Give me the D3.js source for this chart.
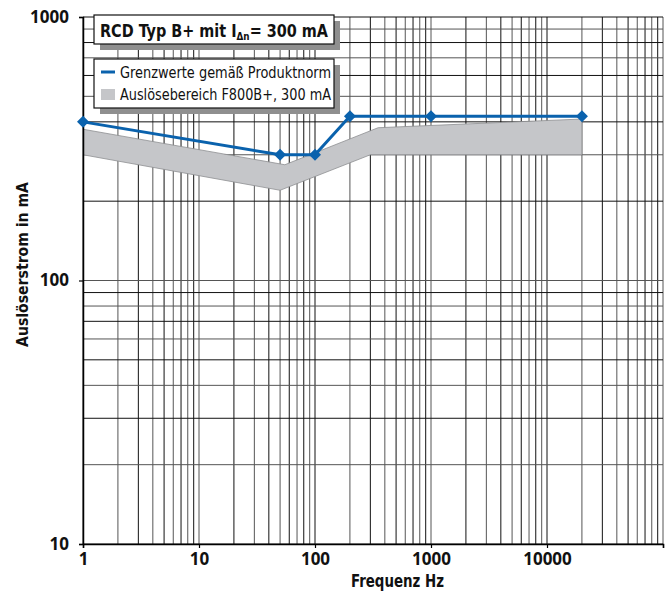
<!DOCTYPE html>
<html><head><meta charset="utf-8">
<script src="https://cdn.jsdelivr.net/npm/d3@7"></script>
<style>
body{margin:0;background:#fff;}
svg{display:block;}
.cond{font-family:"Liberation Sans Narrow","DejaVu Sans Condensed","Open Sans",sans-serif;}
.tick text{font-family:"Open Sans",sans-serif;font-weight:bold;font-size:17px;fill:#111;}
</style></head>
<body>
<svg id="chart" width="671" height="594"></svg>
<script>
// ---- data ----
const limitFreq = [1, 50, 100, 200, 1000, 20000];
const limitCurrent = [400, 300, 300, 420, 420, 420];
const bandUpperFreq = [1, 55, 350, 20000];
const bandUpperCurrent = [375, 275, 380, 410];
const bandLowerFreq = [1, 50, 300, 20000];
const bandLowerCurrent = [300, 220, 300, 300];
const xTickValues = [1, 10, 100, 1000, 10000];
const xTickLabels = ["1", "10", "100", "1000", "10000"];
const yTickValues = [10, 100, 1000];
const yTickLabels = ["10", "100", "1000"];
const titleText = ["RCD Typ B+ mit I", "Δn", "= 300 mA"];
const legendLabels = ["Grenzwerte gemäß Produktnorm", "Auslösebereich F800B+, 300 mA"];
const xTitle = "Frequenz Hz";
const yTitle = "Auslöserstrom in mA";

const svg = d3.select("#chart");
const x = d3.scaleLog().domain([1, 100000]).range([83, 663]);
const y = d3.scaleLog().domain([10, 1000]).range([544, 17]);

// grid
const xGrid = [];
for (let k = 0; k < 5; k++) for (let m = 1; m <= 9; m++) xGrid.push(m * Math.pow(10, k));
xGrid.push(100000);
const yGrid = [];
for (let k = 1; k < 3; k++) for (let m = 1; m <= 9; m++) yGrid.push(m * Math.pow(10, k));
yGrid.push(1000);

const g = svg.append("g");
g.selectAll("line.vg").data(xGrid).enter().append("line")
  .attr("x1", d => x(d)).attr("x2", d => x(d)).attr("y1", y(1000)).attr("y2", y(10))
  .attr("stroke", (d, i) => i % 2 ? "#555" : "#111").attr("stroke-width", 1);
g.selectAll("line.hg").data(yGrid).enter().append("line")
  .attr("y1", d => y(d)).attr("y2", d => y(d)).attr("x1", x(1)).attr("x2", x(100000))
  .attr("stroke", (d, i) => i % 2 ? "#555" : "#111").attr("stroke-width", 1);

// band
const bandPts = bandUpperFreq.map((f, i) => [x(f), y(bandUpperCurrent[i])])
  .concat(bandLowerFreq.map((f, i) => [x(f), y(bandLowerCurrent[i])]).reverse());
svg.append("path").attr("d", d3.line()(bandPts) + "Z")
  .attr("fill", "#c5c6c9").attr("stroke", "#8e8f92").attr("stroke-width", 0.8);

// axes
const xAxis = d3.axisBottom(x).tickValues(xTickValues.concat([100000]))
  .tickFormat(d => { const i = xTickValues.indexOf(d); return i >= 0 ? xTickLabels[i] : ""; })
  .tickSize(4).tickPadding(7);
const gx = svg.append("g").attr("transform", "translate(0,544)").call(xAxis);
const yAxis = d3.axisLeft(y).tickValues(yTickValues)
  .tickFormat(d => yTickLabels[yTickValues.indexOf(d)])
  .tickSize(4).tickPadding(10);
const gy = svg.append("g").attr("transform", "translate(83,0)").call(yAxis);
[gx, gy].forEach(a => {
  a.select(".domain").attr("stroke", "#000").attr("stroke-width", 1.5);
  a.selectAll(".tick line").attr("stroke", "#000").attr("stroke-width", 1.2);
});
gx.selectAll(".tick text").attr("dy", "0.6em");

// limit line
const lpts = limitFreq.map((f, i) => [x(f), y(limitCurrent[i])]);
svg.append("path").attr("d", d3.line()(lpts)).attr("fill", "none")
  .attr("stroke", "#0a62ad").attr("stroke-width", 3);
svg.selectAll("path.mk").data(lpts).enter().append("path")
  .attr("d", d => `M${d[0]},${d[1]-6}L${d[0]+6},${d[1]}L${d[0]},${d[1]+6}L${d[0]-6},${d[1]}Z`)
  .attr("fill", "#0a62ad");

// title box
function box(x0, y0, w, h) {
  svg.append("rect").attr("x", x0 + 6).attr("y", y0 + 6).attr("width", w).attr("height", h).attr("fill", "#8f8f8f");
  svg.append("rect").attr("x", x0).attr("y", y0).attr("width", w).attr("height", h)
    .attr("fill", "#fff").attr("stroke", "#111").attr("stroke-width", 1.2);
}
box(94, 15, 240, 29);
const tt = svg.append("text").attr("class", "cond").attr("x", 100).attr("y", 37)
  .attr("font-size", 18).attr("font-weight", "bold").attr("fill", "#111")
  .attr("textLength", 228).attr("lengthAdjust", "spacingAndGlyphs");
tt.append("tspan").text(titleText[0]);
tt.append("tspan").attr("font-size", 11).attr("dy", 3).text(titleText[1]);
tt.append("tspan").attr("dy", -3).text(titleText[2]);

box(94, 59, 240, 49);
svg.append("line").attr("x1", 101).attr("x2", 115).attr("y1", 72).attr("y2", 72)
  .attr("stroke", "#0a62ad").attr("stroke-width", 3);
svg.append("rect").attr("x", 101).attr("y", 89).attr("width", 14).attr("height", 11).attr("fill", "#c5c6c9");
svg.append("text").attr("class", "cond").attr("x", 120).attr("y", 78).attr("font-size", 16)
  .attr("fill", "#111").attr("textLength", 211).attr("lengthAdjust", "spacingAndGlyphs").text(legendLabels[0]);
svg.append("text").attr("class", "cond").attr("x", 120).attr("y", 100).attr("font-size", 16)
  .attr("fill", "#111").attr("textLength", 211).attr("lengthAdjust", "spacingAndGlyphs").text(legendLabels[1]);

// axis titles
svg.append("text").attr("class", "cond").attr("x", 351).attr("y", 587)
  .attr("font-size", 17).attr("font-weight", "bold").attr("fill", "#111")
  .attr("textLength", 93).attr("lengthAdjust", "spacingAndGlyphs").text(xTitle);
svg.append("text").attr("class", "cond").attr("transform", "translate(28,347) rotate(-90)")
  .attr("font-size", 16).attr("font-weight", "bold").attr("fill", "#111")
  .attr("textLength", 165).attr("lengthAdjust", "spacingAndGlyphs").text(yTitle);
</script>
</body></html>
